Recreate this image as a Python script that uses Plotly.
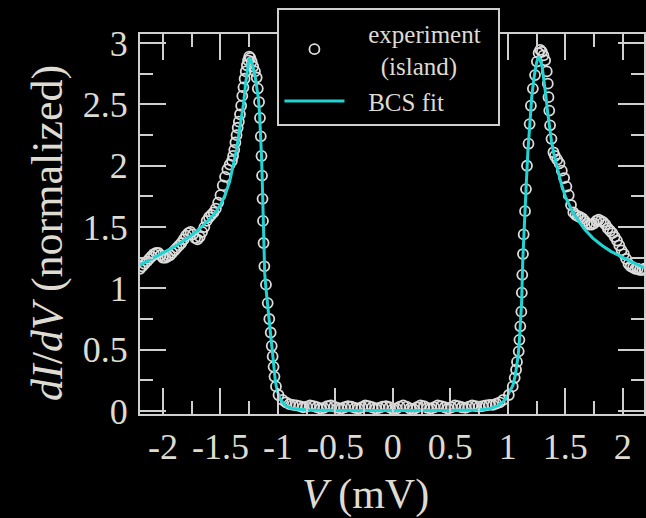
import plotly.graph_objects as go

# ---------------- data ----------------
# experiment (island): left tail
v_exp_ltail = [-2.20, -2.18, -2.16, -2.14, -2.12, -2.10, -2.08, -2.06, -2.04, -2.02,
               -2.00, -1.98, -1.96, -1.94, -1.92, -1.90, -1.88, -1.86, -1.84, -1.82,
               -1.80, -1.78, -1.76, -1.74, -1.72, -1.70, -1.68, -1.66, -1.64, -1.62,
               -1.60, -1.58, -1.56, -1.54, -1.52, -1.50, -1.48, -1.46, -1.44, -1.42]
g_exp_ltail = [1.16, 1.18, 1.20, 1.22, 1.24, 1.26, 1.28, 1.29, 1.29, 1.27,
               1.25, 1.25, 1.26, 1.27, 1.29, 1.31, 1.33, 1.35, 1.37, 1.40,
               1.43, 1.45, 1.46, 1.44, 1.41, 1.40, 1.42, 1.46, 1.50, 1.55,
               1.58, 1.60, 1.62, 1.65, 1.70, 1.76, 1.84, 1.91, 1.97, 2.01]
# left peak, outer flank
v_exp_lpeak = [-1.40, -1.39, -1.38, -1.37, -1.36, -1.35, -1.34, -1.33, -1.32, -1.31,
               -1.30, -1.29, -1.28, -1.27, -1.26, -1.25]
g_exp_lpeak = [2.04, 2.08, 2.13, 2.19, 2.25, 2.31, 2.36, 2.42, 2.49, 2.57,
               2.64, 2.71, 2.77, 2.82, 2.86, 2.89]
# left peak, inner flank (gap edge)
v_exp_ledge = [-1.240, -1.228, -1.215, -1.200, -1.185, -1.175, -1.164, -1.156, -1.149, -1.143,
               -1.138, -1.134, -1.130, -1.125, -1.118, -1.104, -1.089, -1.075, -1.063, -1.054,
               -1.046, -1.038, -1.030, -1.017, -0.995]
g_exp_ledge = [2.88, 2.85, 2.81, 2.77, 2.72, 2.63, 2.52, 2.39, 2.24, 2.08,
               1.92, 1.73, 1.55, 1.37, 1.18, 1.03, 0.88, 0.75, 0.64, 0.53,
               0.445, 0.36, 0.28, 0.20, 0.13]
# inside the gap
v_exp_gap = [-0.96, -0.93, -0.90, -0.87, -0.84, -0.81, -0.78, -0.75, -0.72, -0.69,
             -0.66, -0.63, -0.60, -0.57, -0.54, -0.51, -0.48, -0.45, -0.42, -0.39,
             -0.36, -0.33, -0.30, -0.27, -0.24, -0.21, -0.18, -0.15, -0.12, -0.09,
             -0.06, -0.03, 0.00, 0.03, 0.06, 0.09, 0.12, 0.15, 0.18, 0.21,
             0.24, 0.27, 0.30, 0.33, 0.36, 0.39, 0.42, 0.45, 0.48, 0.51,
             0.54, 0.57, 0.60, 0.63, 0.66, 0.69, 0.72, 0.75, 0.78, 0.81,
             0.84, 0.87, 0.90, 0.93, 0.96]
g_exp_gap = [0.09, 0.07, 0.055, 0.05, 0.045, 0.04, 0.03, 0.035, 0.045, 0.04,
             0.03, 0.02, 0.025, 0.04, 0.045, 0.035, 0.025, 0.02, 0.03, 0.04,
             0.035, 0.025, 0.02, 0.03, 0.045, 0.04, 0.03, 0.02, 0.025, 0.035,
             0.04, 0.03, 0.015, 0.02, 0.035, 0.045, 0.035, 0.02, 0.015, 0.03,
             0.045, 0.04, 0.025, 0.02, 0.03, 0.045, 0.04, 0.03, 0.02, 0.03,
             0.045, 0.04, 0.03, 0.025, 0.035, 0.045, 0.04, 0.035, 0.04, 0.045,
             0.05, 0.05, 0.06, 0.07, 0.09]
# right peak, inner flank (gap edge)
v_exp_redge = [1.009, 1.043, 1.060, 1.072, 1.080, 1.095, 1.101, 1.109, 1.118, 1.122,
               1.126, 1.132, 1.138, 1.150, 1.158, 1.167, 1.180, 1.190, 1.201, 1.218,
               1.237, 1.253, 1.268, 1.282]
g_exp_redge = [0.13, 0.20, 0.27, 0.336, 0.40, 0.486, 0.58, 0.69, 0.81, 0.965,
               1.11, 1.28, 1.44, 1.63, 1.81, 2.00, 2.18, 2.34, 2.49, 2.63,
               2.74, 2.85, 2.92, 2.945]
# right peak, outer flank
v_exp_rpeak = [1.296, 1.310, 1.325, 1.339, 1.348, 1.354, 1.361, 1.368, 1.380, 1.397]
g_exp_rpeak = [2.93, 2.90, 2.86, 2.77, 2.67, 2.56, 2.45, 2.33, 2.22, 2.11]
# right tail
v_exp_rtail = [1.41, 1.43, 1.45, 1.47, 1.49, 1.51, 1.53, 1.55, 1.57, 1.59,
               1.61, 1.63, 1.65, 1.67, 1.69, 1.71, 1.73, 1.75, 1.77, 1.79,
               1.81, 1.83, 1.85, 1.87, 1.89, 1.91, 1.93, 1.95, 1.97, 1.99,
               2.01, 2.03, 2.05, 2.07, 2.09, 2.11, 2.13, 2.15, 2.17, 2.19]
g_exp_rtail = [2.08, 2.05, 2.02, 1.96, 1.90, 1.83, 1.76, 1.68, 1.62, 1.60,
               1.59, 1.58, 1.57, 1.55, 1.53, 1.52, 1.52, 1.53, 1.55, 1.56,
               1.55, 1.54, 1.52, 1.49, 1.47, 1.45, 1.42, 1.39, 1.35, 1.31,
               1.28, 1.24, 1.20, 1.18, 1.17, 1.16, 1.16, 1.15, 1.15, 1.16]

# BCS fit
v_fit_left = [-2.20, -2.10, -2.00, -1.90, -1.80, -1.70, -1.60, -1.55, -1.50, -1.46,
              -1.42, -1.39, -1.36, -1.33, -1.30, -1.28, -1.26, -1.25, -1.24, -1.22,
              -1.20, -1.185, -1.17, -1.16, -1.15, -1.143, -1.137, -1.132, -1.127, -1.121,
              -1.115, -1.104, -1.09, -1.075, -1.06, -1.047, -1.035, -1.022, -1.005, -0.985,
              -0.96, -0.93, -0.88, -0.75, -0.45, 0.0]
g_fit_left = [1.19, 1.24, 1.29, 1.34, 1.40, 1.47, 1.56, 1.61, 1.68, 1.76,
              1.87, 1.99, 2.13, 2.32, 2.50, 2.68, 2.83, 2.88, 2.87, 2.82,
              2.74, 2.66, 2.55, 2.43, 2.26, 2.08, 1.90, 1.70, 1.48, 1.27,
              1.12, 1.00, 0.87, 0.74, 0.60, 0.46, 0.34, 0.24, 0.16, 0.11,
              0.07, 0.04, 0.02, 0.008, 0.003, 0.0]
v_fit_right = [0.45, 0.75, 0.85, 0.92, 0.96, 0.99, 1.02, 1.045, 1.065, 1.08,
               1.09, 1.10, 1.11, 1.12, 1.13, 1.14, 1.15, 1.16, 1.175, 1.19,
               1.21, 1.23, 1.25, 1.267, 1.285, 1.30, 1.315, 1.33, 1.345, 1.36,
               1.38, 1.40, 1.425, 1.46, 1.50, 1.55, 1.60, 1.67, 1.74, 1.82,
               1.90, 2.00, 2.09, 2.185]
g_fit_right = [0.003, 0.008, 0.02, 0.045, 0.075, 0.11, 0.16, 0.21, 0.29, 0.37,
               0.45, 0.56, 0.70, 0.88, 1.22, 1.48, 1.64, 1.84, 2.12, 2.36,
               2.58, 2.73, 2.84, 2.89, 2.86, 2.80, 2.70, 2.58, 2.45, 2.32,
               2.20, 2.10, 2.00, 1.87, 1.75, 1.65, 1.57, 1.48, 1.41, 1.35,
               1.30, 1.25, 1.21, 1.17]

x_tick_vals = [-2, -1.5, -1, -0.5, 0, 0.5, 1, 1.5, 2]
x_tick_text = ["-2", "-1.5", "-1", "-0.5", "0", "0.5", "1", "1.5", "2"]
y_tick_vals = [0, 0.5, 1, 1.5, 2, 2.5, 3]
y_tick_text = ["0", "0.5", "1", "1.5", "2", "2.5", "3"]

# ---------------- assemble ----------------
v_exp = (v_exp_ltail + v_exp_lpeak + v_exp_ledge + v_exp_gap
         + v_exp_redge + v_exp_rpeak + v_exp_rtail)
g_exp = (g_exp_ltail + g_exp_lpeak + g_exp_ledge + g_exp_gap
         + g_exp_redge + g_exp_rpeak + g_exp_rtail)
v_fit = v_fit_left + v_fit_right
g_fit = g_fit_left + g_fit_right

FONT = "Liberation Serif, Times New Roman, Times, serif"
TXT = "#dedbd2"
AX = "#cfcfcf"
CYAN = "#20d4d4"
NB = "\u00a0"

fig = go.Figure()
fig.add_trace(go.Scatter(
    x=v_exp, y=g_exp, mode="markers",
    name=NB * 3 + "experiment" + NB * 2 + "<br>" + NB * 5 + "(island)",
    marker=dict(symbol="circle-open", size=10, color="#dcdcdc", line=dict(width=1.8)),
))
fig.add_trace(go.Scatter(
    x=v_fit, y=g_fit, mode="lines", name=NB * 3 + "BCS fit",
    line=dict(color=CYAN, width=3),
))

axis_common = dict(
    showgrid=False, zeroline=False, showline=True, linewidth=2, linecolor=AX,
    mirror="ticks", ticks="inside", ticklen=26, tickwidth=2, tickcolor=AX,
    tickfont=dict(family=FONT, size=36, color=TXT),
)

fig.update_xaxes(
    range=[-2.2, 2.185], tickmode="array", tickvals=x_tick_vals, ticktext=x_tick_text,
    minor=dict(dtick=0.25, tick0=0, ticks="inside", ticklen=13, tickwidth=2, tickcolor=AX),
    ticklabelstandoff=0, **axis_common,
)
fig.update_yaxes(
    range=[-0.025, 3.075], tickmode="array", tickvals=y_tick_vals, ticktext=y_tick_text,
    minor=dict(dtick=0.25, tick0=0, ticks="inside", ticklen=13, tickwidth=2, tickcolor=AX),
    ticklabelstandoff=3, **axis_common,
)

fig.update_layout(
    width=646, height=518,
    margin=dict(l=140, r=0, t=34, b=104),
    paper_bgcolor="black", plot_bgcolor="black",
    font=dict(family=FONT, color=TXT),
    showlegend=True,
    legend=dict(
        x=0.2727, y=1.068, xanchor="left", yanchor="top",
        bgcolor="black", bordercolor=AX, borderwidth=2,
        font=dict(family=FONT, size=25, color=TXT),
        itemwidth=60, tracegroupgap=0,
    ),
    annotations=[
        dict(text="<i>V</i> (mV)", xref="paper", yref="paper", x=0.4466, y=-0.213,
             xanchor="center", yanchor="middle", showarrow=False,
             font=dict(family=FONT, size=42, color=TXT)),
        dict(text="<i>dI</i>/<i>dV</i> (normalized)", xref="paper", yref="paper",
             x=-0.185, y=0.476, xanchor="center", yanchor="middle", textangle=-90,
             showarrow=False, font=dict(family=FONT, size=44, color=TXT)),
    ],
)

fig.write_html(
    "out.html",
    config={"displayModeBar": False},
    post_script="document.body.style.margin='0px';document.body.style.padding='0px';",
)
